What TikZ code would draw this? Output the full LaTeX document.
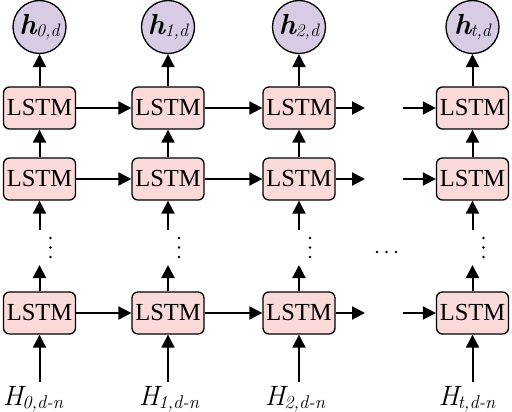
\documentclass[tikz,border=0pt]{standalone}
\usepackage{fontspec}
\setmainfont{Liberation Serif}
\newfontfamily\lmit{Latin Modern Roman}
\usetikzlibrary{arrows.meta}
\definecolor{boxpink}{HTML}{F9DAD8}
\definecolor{circlav}{HTML}{D8CCE4}
\newcommand\myhlab[1]{{\lmit\fontsize{29}{32}\selectfont\bfseries\itshape h}\kern-0.5pt\raisebox{-2pt}{\lmit\fontsize{18}{22}\selectfont\itshape #1}}
\newcommand\myHlab[1]{{\lmit\fontsize{28}{32}\selectfont\itshape H}\kern-1pt\raisebox{-3pt}{\lmit\fontsize{18.5}{22}\selectfont\itshape #1}}
\begin{document}
\begin{tikzpicture}[x=1pt,y=-1pt,
 lstm/.style={draw,line width=1.3pt,fill=boxpink,rounded corners=6pt,minimum width=72pt,minimum height=42pt,inner sep=0pt,font=\fontsize{24.5}{28}\selectfont},
 outc/.style={draw,circle,line width=1.3pt,fill=circlav,minimum size=53pt,inner sep=0pt},
 inlab/.style={anchor=base,inner sep=0pt},
 arr/.style={line width=2pt,-{Triangle[length=13pt,width=13pt]}},
 dotc/.style={fill=black,circle,inner sep=0pt,minimum size=2.8pt}]
\useasboundingbox (0,0) rectangle (512,412);
\foreach \n/\x in {a/39.5,b/168,c/299,d/472.5}{
  \node[lstm] (r1\n) at (\x,108) {LSTM};
  \node[lstm] (r2\n) at (\x,179) {LSTM};
  \node[lstm] (r3\n) at (\x,313) {LSTM};
  \coordinate (u\n) at (\x,230);
  \coordinate (v\n) at (\x,265);
  \coordinate (w\n) at (\x,382);
  \node[dotc] (d1\n) at (\x+11,238) {};
  \node[dotc] (d2\n) at (\x+11,247.5) {};
  \node[dotc] (d3\n) at (\x+11,257) {};
}
\node[outc] (oa) at (39.5,27) {\myhlab{0,d}};
\node[outc] (ob) at (168,27) {\myhlab{1,d}};
\node[outc] (oc) at (299,27) {\myhlab{2,d}};
\node[outc] (od) at (472.5,27) {\myhlab{t,d}};
\node[inlab] (ia) at (33,405) {\myHlab{0,d-n}};
\node[inlab] (ib) at (169,405) {\myHlab{1,d-n}};
\node[inlab] (ic) at (295,405) {\myHlab{2,d-n}};
\node[inlab] (id) at (467,405) {\myHlab{t,d-n}};
\foreach \n in {a,b,c,d}{
  \draw[arr] (r1\n.north) -- (o\n.south);
  \draw[arr] (r2\n.north) -- (r1\n.south);
  \draw[arr] (u\n) -- (r2\n.south);
  \draw[arr] (r3\n.north) -- (v\n);
  \draw[arr] (w\n) -- (r3\n.south);
}
\foreach \r/\y in {1/108,2/179,3/313}{
  \coordinate (fe\r) at (365,\y);
  \coordinate (fs\r) at (403,\y);
  \draw[arr] (r\r a.east) -- (r\r b.west);
  \draw[arr] (r\r b.east) -- (r\r c.west);
  \draw[arr] (r\r c.east) -- (fe\r);
  \draw[arr] (fs\r) -- (r\r d.west);
}
\node[dotc] (h1) at (377,252) {};
\node[dotc] (h2) at (386.5,252) {};
\node[dotc] (h3) at (396,252) {};
\end{tikzpicture}
\end{document}
